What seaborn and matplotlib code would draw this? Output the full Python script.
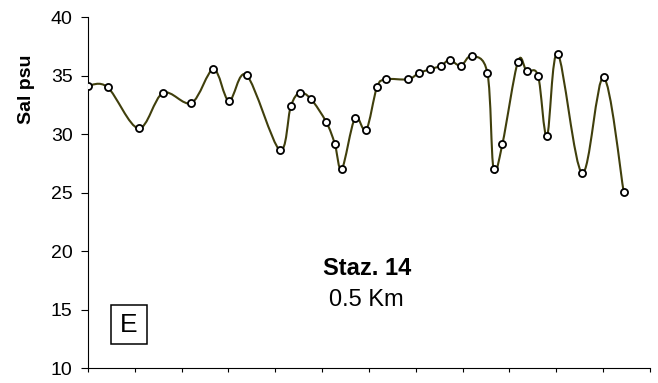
import numpy as np
import pandas as pd
import matplotlib
matplotlib.use("Agg")
import matplotlib.pyplot as plt
from matplotlib.path import Path
from matplotlib.patches import PathPatch, Rectangle
import seaborn as sns

# sample positions (tick units along the transect) and salinity values
distance = [0.0, 0.42, 1.08, 1.60, 2.21, 2.68, 3.01, 3.39, 4.09, 4.33,
            4.52, 4.76, 5.09, 5.27, 5.42, 5.70, 5.94, 6.17, 6.36, 6.83,
            7.06, 7.30, 7.54, 7.72, 7.96, 8.19, 8.53, 8.66, 8.85, 9.18,
            9.37, 9.61, 9.80, 10.03, 10.55, 11.01, 11.44]
salinity = [34.15, 34.02, 30.51, 33.53, 32.68, 35.56, 32.87, 35.04, 28.68, 32.39,
            33.53, 33.02, 31.03, 29.20, 27.03, 31.37, 30.37, 34.02, 34.70, 34.70,
            35.21, 35.56, 35.86, 36.35, 35.86, 36.69, 35.21, 27.03, 29.20, 36.21,
            35.38, 35.01, 29.85, 36.89, 26.69, 34.87, 25.04]
y_ticks = [10, 15, 20, 25, 30, 35, 40]

df = pd.DataFrame({"dist": distance, "sal": salinity})

sns.set_style("white")
plt.rcParams["font.family"] = ["Liberation Sans", "DejaVu Sans"]
plt.rcParams["text.color"] = "black"
plt.rcParams["axes.labelcolor"] = "black"
plt.rcParams["xtick.color"] = "black"
plt.rcParams["ytick.color"] = "black"

fig = plt.figure(figsize=(6.58, 3.83), dpi=100)
ax = fig.add_axes([0.1337, 0.0384, 0.8541, 0.9164])

# smooth line like a spreadsheet "smoothed line": cubic bezier through the points
pts = df[["dist", "sal"]].to_numpy()
n = len(pts)
verts = [pts[0]]
codes = [Path.MOVETO]
for i in range(n - 1):
    p0 = pts[i - 1] if i > 0 else pts[i]
    p1 = pts[i]
    p2 = pts[i + 1]
    p3 = pts[i + 2] if i + 2 < n else pts[i + 1]
    c1 = p1 + (p2 - p0) / 6.0
    c2 = p2 - (p3 - p1) / 6.0
    verts += [c1, c2, p2]
    codes += [Path.CURVE4] * 3
ax.add_patch(PathPatch(Path(verts, codes), facecolor="none",
                       edgecolor="#403f0c", linewidth=1.5, zorder=2))

sns.scatterplot(data=df, x="dist", y="sal", ax=ax, marker="o", s=26,
                facecolor="white", edgecolor="black", linewidth=1.3, zorder=3)

ax.set_xlim(0, 12)
ax.set_ylim(10, 40)
ax.set_xticks(range(13))
ax.set_xticklabels([])
ax.set_yticks(y_ticks)
ax.tick_params(axis="y", direction="out", length=5, width=0.8, pad=6,
               labelsize=14, left=True, color="black", labelcolor="black")
ax.tick_params(axis="x", direction="out", length=3, width=0.8, bottom=True,
               color="black")
ax.set_xlabel("")
ax.set_ylabel("Sal psu", fontsize=14, fontweight="bold", color="black")
ax.yaxis.set_label_coords(-0.095, 0.796)

for side in ["top", "right"]:
    ax.spines[side].set_visible(False)
for side in ["left", "bottom"]:
    ax.spines[side].set_color("black")
    ax.spines[side].set_linewidth(0.8)

ax.text(5.96, 18.49, "Staz. 14", ha="center", va="center",
        fontsize=17, fontweight="bold", color="black")
ax.text(5.95, 15.84, "0.5 Km", ha="center", va="center", fontsize=17,
        color="black")

ax.add_patch(Rectangle((0.49, 12.05), 0.76, 3.36, facecolor="white",
                       edgecolor="black", linewidth=1.1, zorder=4))
ax.text(0.87, 13.73, "E", ha="center", va="center", fontsize=19,
        color="black", zorder=5)

fig.savefig("out.png", dpi=100)
